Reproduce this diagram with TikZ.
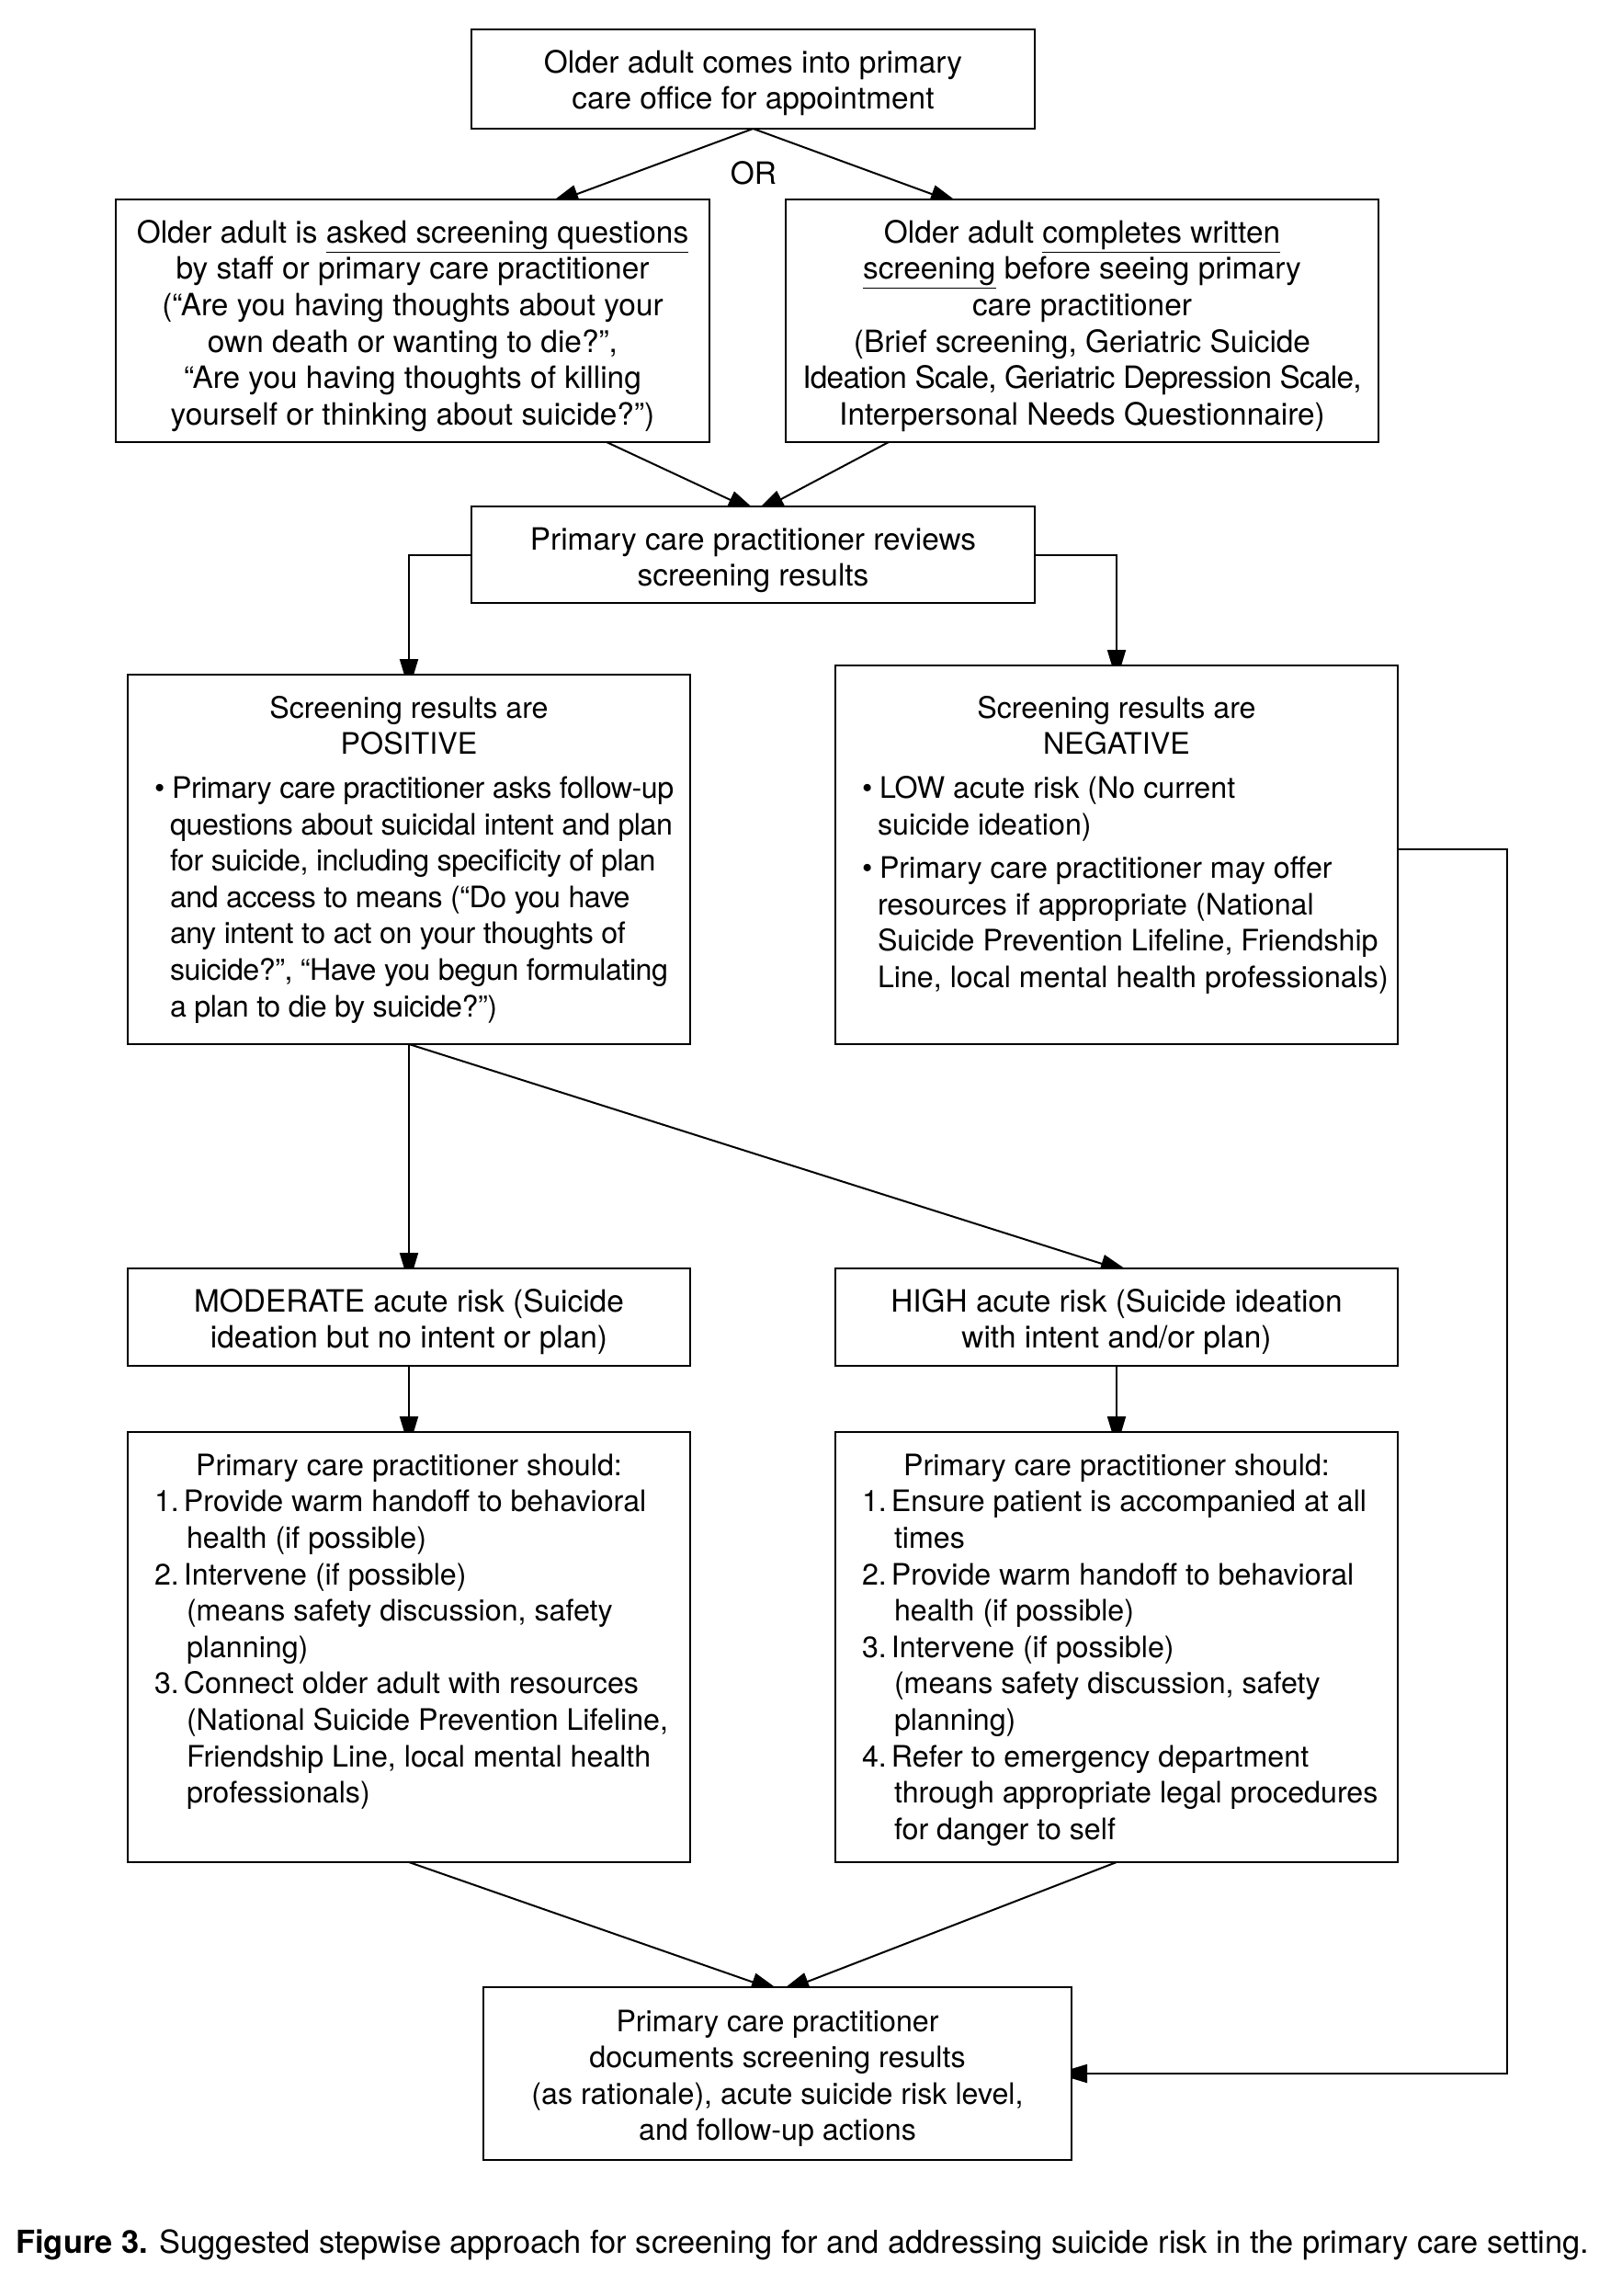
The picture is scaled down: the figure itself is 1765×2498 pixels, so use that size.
\documentclass[tikz,border=0pt]{standalone}
\usepackage{fontspec}
\setmainfont{TeX Gyre Heros}
\newfontfamily\tightfont[LetterSpace=-1.5]{TeX Gyre Heros}
\newfontfamily\tighterfont[LetterSpace=-2.2]{TeX Gyre Heros}
\usetikzlibrary{arrows.meta,calc,backgrounds}

\newcommand\fcl[1]{\hbox to\hsize{\hfil#1\hfil}}
\newcommand\fbul[1]{\hbox to\hsize{\kern14.5pt\hbox to9.5pt{\textbullet\hss}#1\hss}}
\newcommand\fbc[1]{\hbox to\hsize{\kern23pt#1\hss}}
\newcommand\fnm[2]{\hbox to\hsize{\kern14.5pt\hbox to16pt{#1\hss}#2\hss}}
\newcommand\fnc[1]{\hbox to\hsize{\kern32pt#1\hss}}
\newcommand\fgap{\vskip4pt}
\newcommand\fbx[4]{\vbox to#2{\hsize=#1\relax\baselineskip=19.8pt\lineskiplimit=-100pt\lineskip=0pt\vskip\dimexpr#3-19.8pt\relax\hbox to\hsize{\hfil}#4\vfil}}
\newcommand\fsz{\fontsize{16.1pt}{19.8pt}\selectfont}
\newcommand\fszw{\fontsize{16.7pt}{19.8pt}\selectfont}

\begin{document}
\begin{tikzpicture}[x=0.5pt,y=-0.5pt,
  box/.style={draw, fill=white, line width=0.8pt, inner sep=0pt, outer sep=0pt, anchor=north west, font=\fsz},
  wbox/.style={box, font=\fszw},
  arr/.style={-{Triangle[length=17pt,width=10pt]}, line width=1pt},
  txt/.style={font=\fszw, inner sep=0pt}]
\useasboundingbox (0,0) rectangle (1765,2498);

\node[wbox] (b1) at (513,32) {\fbx{306.5pt}{54pt}{23.6pt}{%
  \fcl{Older adult comes into primary}%
  \fcl{care office for appointment}}};

\node[txt] (or) at (820,188) {OR};

\node[wbox] (b2) at (126,217) {\fbx{323pt}{132pt}{23.6pt}{%
  \fcl{Older adult is \underline{asked screening questions}}%
  \fcl{by staff or primary care practitioner}%
  \fcl{(“Are you having thoughts about your}%
  \fcl{own death or wanting to die?”,}%
  \fcl{“Are you having thoughts of killing}%
  \fcl{yourself or thinking about suicide?”)}}};

\node[wbox] (b3) at (855,217) {\fbx{322.5pt}{132pt}{23.6pt}{%
  \fcl{Older adult \underline{completes written}}%
  \fcl{\underline{screening} before seeing primary}%
  \fcl{care practitioner}%
  \fcl{(Brief screening, Geriatric Suicide}%
  \fcl{\tighterfont Ideation Scale, Geriatric Depression Scale,}%
  \fcl{Interpersonal Needs Questionnaire)}}};

\node[wbox] (b4) at (513,551) {\fbx{306.5pt}{52.5pt}{23.6pt}{%
  \fcl{Primary care practitioner reviews}%
  \fcl{screening results}}};

\node[box] (b5) at (139,734) {\fbx{306pt}{201pt}{23.6pt}{%
  \fcl{Screening results are}%
  \fcl{POSITIVE}\fgap
  \fbul{\tightfont Primary care practitioner asks follow-up}%
  \fbc{\tightfont questions about suicidal intent and plan}%
  \fbc{\tightfont for suicide, including specificity of plan}%
  \fbc{\tightfont and access to means (“Do you have}%
  \fbc{\tightfont any intent to act on your thoughts of}%
  \fbc{\tightfont suicide?”, “Have you begun formulating}%
  \fbc{\tightfont a plan to die by suicide?”)}}};

\node[box] (b6) at (909,724) {\fbx{306pt}{206pt}{28.6pt}{%
  \fcl{Screening results are}%
  \fcl{NEGATIVE}\fgap
  \fbul{LOW acute risk (No current}%
  \fbc{suicide ideation)}\fgap
  \fbul{Primary care practitioner may offer}%
  \fbc{resources if appropriate (National}%
  \fbc{Suicide Prevention Lifeline, Friendship}%
  \fbc{Line, local mental health professionals)}}};

\node[wbox] (b7) at (139,1380) {\fbx{306pt}{53pt}{23.6pt}{%
  \fcl{MODERATE acute risk (Suicide}%
  \fcl{ideation but no intent or plan)}}};

\node[wbox] (b8) at (909,1380) {\fbx{306pt}{53pt}{23.6pt}{%
  \fcl{HIGH acute risk (Suicide ideation}%
  \fcl{with intent and/or plan)}}};

\node[box] (b9) at (139,1558) {\fbx{306pt}{234pt}{23.6pt}{%
  \fcl{Primary care practitioner should:}%
  \fnm{1.}{Provide warm handoff to behavioral}%
  \fnc{health (if possible)}%
  \fnm{2.}{Intervene (if possible)}%
  \fnc{(means safety discussion, safety}%
  \fnc{planning)}%
  \fnm{3.}{Connect older adult with resources}%
  \fnc{(National Suicide Prevention Lifeline,}%
  \fnc{Friendship Line, local mental health}%
  \fnc{professionals)}}};

\node[box] (b10) at (909,1558) {\fbx{306pt}{234pt}{23.6pt}{%
  \fcl{Primary care practitioner should:}%
  \fnm{1.}{Ensure patient is accompanied at all}%
  \fnc{times}%
  \fnm{2.}{Provide warm handoff to behavioral}%
  \fnc{health (if possible)}%
  \fnm{3.}{Intervene (if possible)}%
  \fnc{(means safety discussion, safety}%
  \fnc{planning)}%
  \fnm{4.}{Refer to emergency department}%
  \fnc{through appropriate legal procedures}%
  \fnc{for danger to self}}};

\node[box] (b11) at (526,2162) {\fbx{320pt}{94pt}{24pt}{%
  \fcl{Primary care practitioner}%
  \fcl{documents screening results}%
  \fcl{(as rationale), acute suicide risk level,}%
  \fcl{and follow-up actions}}};

\node[txt, anchor=west, font=\fontsize{17.2pt}{20pt}\selectfont] (cap) at (17,2442)
  {\textbf{Figure 3.} Suggested stepwise approach for screening for and addressing suicide risk in the primary care setting.};

% arrow targets on box borders
\coordinate (t2) at ($(b2.north west)+(486,0)$);
\coordinate (t3) at ($(b3.north west)+(175,0)$);
\coordinate (s2) at ($(b2.south west)+(534,0)$);
\coordinate (s3) at ($(b3.south west)+(112,0)$);
\coordinate (t4a) at ($(b4.north west)+(297,0)$);
\coordinate (t4b) at ($(b4.north west)+(322,0)$);
\coordinate (s6) at ($(b6.north east)+(0,200)$);
\coordinate (t11a) at ($(b11.north west)+(309,0)$);
\coordinate (t11b) at ($(b11.north west)+(337,0)$);

% connectors (tips partly hidden under the boxes)
\begin{scope}[on background layer]
\draw[arr] (b1.south) -- ($(t2)!-8.5pt!(b1.south)$);
\draw[arr] (b1.south) -- ($(t3)!-8.5pt!(b1.south)$);
\draw[arr] (s2) -- ($(t4a)!-8.5pt!(s2)$);
\draw[arr] (s3) -- ($(t4b)!-8.5pt!(s3)$);
\draw[arr] (b4.west) -| ($(b5.north)+(0,17)$);
\draw[arr] (b4.east) -| ($(b6.north)+(0,17)$);
\draw[arr] (s6) -- ++(119,0) |- ($(b11.east)+(-17,0)$);
\draw[arr] (b5.south) -- ($(b7.north)+(0,17)$);
\draw[arr] (b5.south) -- ($(b8.north)!-8.5pt!(b5.south)$);
\draw[arr] (b7.south) -- ($(b9.north)+(0,17)$);
\draw[arr] (b8.south) -- ($(b10.north)+(0,17)$);
\draw[arr] (b9.south) -- ($(t11a)!-8.5pt!(b9.south)$);
\draw[arr] (b10.south) -- ($(t11b)!-8.5pt!(b10.south)$);
\end{scope}
\end{tikzpicture}
\end{document}
